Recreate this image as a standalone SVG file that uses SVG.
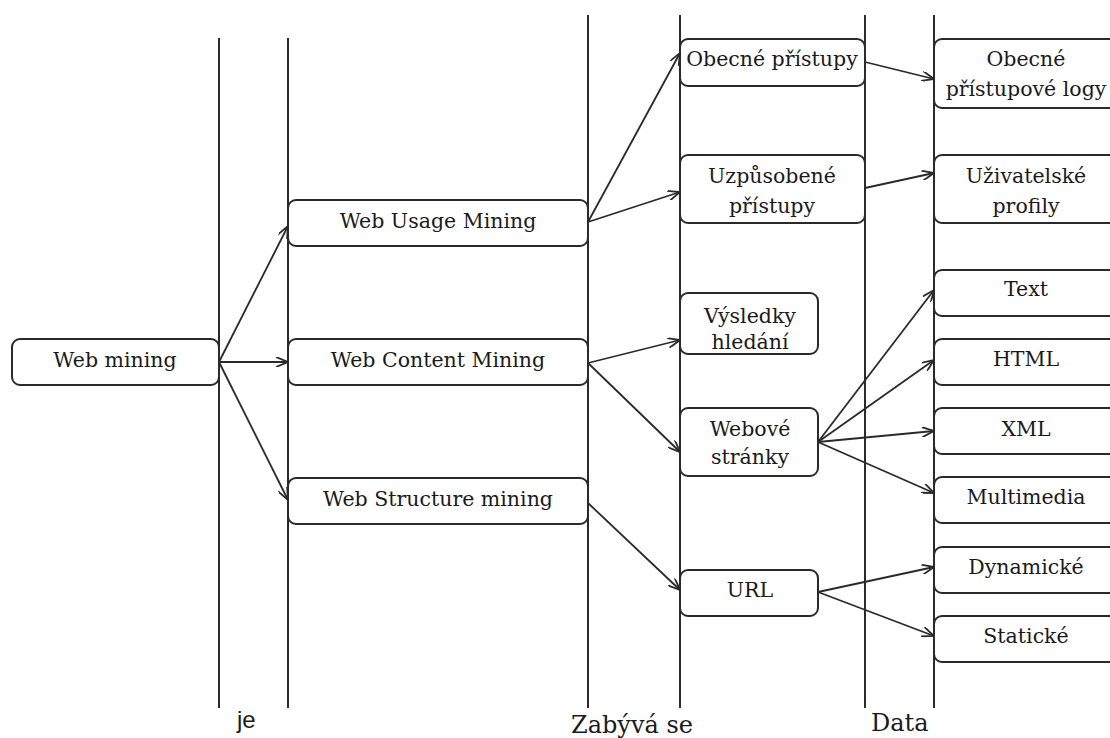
<svg xmlns="http://www.w3.org/2000/svg" width="1110" height="738" viewBox="0 0 1110 738">
  <style>
    .lane { stroke: #2a2a2a; stroke-width: 2; fill: none; }
    .box { fill: #ffffff; stroke: #2a2a2a; stroke-width: 2; }
    .lbl { font-family: "DejaVu Serif", "Liberation Serif", serif; font-size: 20.5px; fill: #1a1a1a; text-anchor: middle; }
    .cap { font-family: "DejaVu Serif", "Liberation Serif", serif; font-size: 24px; fill: #1a1a1a; }
    .capsans { font-family: "Liberation Sans", Arial, sans-serif; font-size: 24px; fill: #1a1a1a; }
    .conn { stroke: #2a2a2a; stroke-width: 1.8; fill: none; marker-end: url(#arrow); }
  </style>
  <defs>
    <marker id="arrow" markerUnits="userSpaceOnUse" viewBox="0 0 12 10" refX="12" refY="5" markerWidth="12" markerHeight="10" orient="auto">
      <path d="M0,0 L12,5 L0,10" fill="none" stroke="#2a2a2a" stroke-width="1.8"/>
    </marker>
  </defs>
  <rect width="1110" height="738" fill="#ffffff"/>

  <!-- column dividers -->
  <g id="lanes">
    <line class="lane" x1="219" y1="38" x2="219" y2="708"/>
    <line class="lane" x1="288" y1="38" x2="288" y2="708"/>
    <line class="lane" x1="588" y1="15" x2="588" y2="708"/>
    <line class="lane" x1="680" y1="15" x2="680" y2="708"/>
    <line class="lane" x1="865" y1="15" x2="865" y2="708"/>
    <line class="lane" x1="934" y1="15" x2="934" y2="708"/>
  </g>

  <!-- column captions -->
  <g id="captions">
    <text class="capsans" x="237" y="728">je</text>
    <text class="cap" x="571" y="733">Zabývá se</text>
    <text class="cap" x="871" y="731">Data</text>
  </g>

  <!-- connectors -->
  <g id="connectors">
    <path class="conn" d="M219,362 L288,226"/>
    <path class="conn" d="M219,362 L288,362"/>
    <path class="conn" d="M219,362 L288,500"/>
    <path class="conn" d="M588,222 L680,53"/>
    <path class="conn" d="M588,222 L680,192"/>
    <path class="conn" d="M865,62 L934,79"/>
    <path class="conn" d="M865,188 L934,173"/>
    <path class="conn" d="M588,363 L680,340"/>
    <path class="conn" d="M588,363 L680,452"/>
    <path class="conn" d="M818,442 L934,290"/>
    <path class="conn" d="M818,442 L934,360"/>
    <path class="conn" d="M818,442 L934,431"/>
    <path class="conn" d="M818,442 L934,493"/>
    <path class="conn" d="M588,503 L680,590"/>
    <path class="conn" d="M818,592 L934,567"/>
    <path class="conn" d="M818,592 L934,636"/>
  </g>

  <!-- nodes -->
  <g id="web-mining">
    <rect class="box" x="12" y="339" width="207" height="46" rx="8"/>
    <text class="lbl" x="115" y="367">Web mining</text>
  </g>
  <g id="web-usage-mining">
    <rect class="box" x="288" y="200" width="300" height="46" rx="8"/>
    <text class="lbl" x="438" y="228">Web Usage Mining</text>
  </g>
  <g id="web-content-mining">
    <rect class="box" x="288" y="339" width="300" height="46" rx="8"/>
    <text class="lbl" x="438" y="367">Web Content Mining</text>
  </g>
  <g id="web-structure-mining">
    <rect class="box" x="288" y="478" width="300" height="46" rx="8"/>
    <text class="lbl" x="438" y="506">Web Structure mining</text>
  </g>

  <g id="obecne-pristupy">
    <rect class="box" x="680" y="39" width="185" height="47" rx="8"/>
    <text class="lbl" x="772" y="66">Obecné přístupy</text>
  </g>
  <g id="uzpusobene-pristupy">
    <rect class="box" x="680" y="155" width="185" height="68" rx="8"/>
    <text class="lbl" x="772" y="183">Uzpůsobené</text>
    <text class="lbl" x="772" y="213">přístupy</text>
  </g>
  <g id="vysledky-hledani">
    <rect class="box" x="680" y="293" width="138" height="61" rx="8"/>
    <text class="lbl" x="750" y="323">Výsledky</text>
    <text class="lbl" x="750" y="349">hledání</text>
  </g>
  <g id="webove-stranky">
    <rect class="box" x="680" y="408" width="138" height="68" rx="8"/>
    <text class="lbl" x="750" y="436">Webové</text>
    <text class="lbl" x="750" y="464">stránky</text>
  </g>
  <g id="url">
    <rect class="box" x="680" y="570" width="138" height="46" rx="8"/>
    <text class="lbl" x="750" y="597">URL</text>
  </g>

  <g id="obecne-pristupove-logy">
    <rect class="box" x="934" y="39" width="190" height="69" rx="8"/>
    <text class="lbl" x="1026" y="66">Obecné</text>
    <text class="lbl" x="1026" y="96">přístupové logy</text>
  </g>
  <g id="uzivatelske-profily">
    <rect class="box" x="934" y="155" width="190" height="68" rx="8"/>
    <text class="lbl" x="1026" y="183">Uživatelské</text>
    <text class="lbl" x="1026" y="213">profily</text>
  </g>
  <g id="text">
    <rect class="box" x="934" y="270" width="190" height="46" rx="8"/>
    <text class="lbl" x="1026" y="296">Text</text>
  </g>
  <g id="html">
    <rect class="box" x="934" y="339" width="190" height="46" rx="8"/>
    <text class="lbl" x="1026" y="366">HTML</text>
  </g>
  <g id="xml">
    <rect class="box" x="934" y="408" width="190" height="46" rx="8"/>
    <text class="lbl" x="1026" y="436">XML</text>
  </g>
  <g id="multimedia">
    <rect class="box" x="934" y="477" width="190" height="46" rx="8"/>
    <text class="lbl" x="1026" y="504">Multimedia</text>
  </g>
  <g id="dynamicke">
    <rect class="box" x="934" y="547" width="190" height="46" rx="8"/>
    <text class="lbl" x="1026" y="574">Dynamické</text>
  </g>
  <g id="staticke">
    <rect class="box" x="934" y="616" width="190" height="46" rx="8"/>
    <text class="lbl" x="1026" y="643">Statické</text>
  </g>
</svg>
